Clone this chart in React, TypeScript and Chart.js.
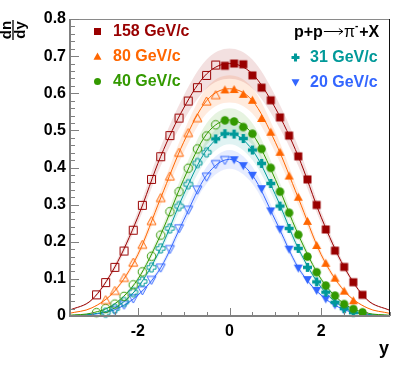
import React, { useEffect, useRef } from "react";
import { Chart, registerables } from "chart.js";

Chart.register(...registerables);

const W = 411;
const H = 373;

const seriesNames = ["158 GeV/c", "80 GeV/c", "40 GeV/c", "31 GeV/c", "20 GeV/c"];
const xTickValues = [-2, 0, 2];
const yTickValues = [0, 0.1, 0.2, 0.3, 0.4, 0.5, 0.6, 0.7, 0.8];
const xAxisTitle = "y";
const yTitleNum = "dn";
const yTitleDen = "dy";

// 158 GeV/c (measured, filled) and reflected (open)
const rap158 = [-0.1, 0.1, 0.3, 0.5, 0.7, 0.9, 1.1, 1.3, 1.5, 1.7, 1.9, 2.1, 2.3, 2.5, 2.7, 2.9];
const dndy158 = [0.674, 0.68, 0.678, 0.648, 0.615, 0.581, 0.535, 0.486, 0.43, 0.368, 0.299, 0.233, 0.176, 0.132, 0.091, 0.057];
const rap158Refl = [-0.3, -0.5, -0.7, -0.9, -1.1, -1.3, -1.5, -1.7, -1.9, -2.1, -2.3, -2.5, -2.7, -2.9];
const dndy158Refl = [0.676, 0.648, 0.615, 0.579, 0.533, 0.486, 0.429, 0.368, 0.298, 0.231, 0.175, 0.131, 0.09, 0.057];

// 80 GeV/c
const rap80 = [-0.1, 0.1, 0.3, 0.5, 0.7, 0.9, 1.1, 1.3, 1.5, 1.7, 1.9, 2.1, 2.3, 2.5, 2.7];
const dndy80 = [0.609, 0.61, 0.597, 0.581, 0.532, 0.495, 0.441, 0.377, 0.32, 0.255, 0.19, 0.142, 0.102, 0.067, 0.041];
const rap80Refl = [-0.3, -0.5, -0.7, -0.9, -1.1, -1.3, -1.5, -1.7, -1.9, -2.1, -2.3, -2.5, -2.7];
const dndy80Refl = [0.595, 0.578, 0.533, 0.493, 0.44, 0.376, 0.318, 0.256, 0.192, 0.144, 0.103, 0.068, 0.043];

// 40 GeV/c
const rap40 = [-0.1, 0.1, 0.3, 0.5, 0.7, 0.9, 1.1, 1.3, 1.5, 1.7, 1.9, 2.1, 2.3, 2.5, 2.7, 2.9];
const dndy40 = [0.527, 0.524, 0.509, 0.491, 0.45, 0.399, 0.335, 0.278, 0.219, 0.16, 0.118, 0.082, 0.055, 0.032, 0.019, 0.01];
const rap40Refl = [-0.3, -0.5, -0.7, -0.9, -1.1, -1.3, -1.5, -1.7, -1.9, -2.1, -2.3, -2.5, -2.7, -2.9];
const dndy40Refl = [0.515, 0.485, 0.45, 0.398, 0.335, 0.281, 0.218, 0.161, 0.119, 0.084, 0.053, 0.032, 0.02, 0.009];

// 31 GeV/c
const rap31 = [-0.3, -0.1, 0.1, 0.3, 0.5, 0.7, 0.9, 1.1, 1.3, 1.5, 1.7, 1.9, 2.1, 2.3, 2.5, 2.7];
const dndy31 = [0.477, 0.491, 0.49, 0.478, 0.447, 0.411, 0.357, 0.296, 0.236, 0.182, 0.131, 0.092, 0.064, 0.037, 0.02, 0.009];
const rap31Refl = [-0.5, -0.7, -0.9, -1.1, -1.3, -1.5, -1.7, -1.9, -2.1, -2.3, -2.5, -2.7];
const dndy31Refl = [0.441, 0.412, 0.355, 0.296, 0.236, 0.182, 0.131, 0.093, 0.064, 0.038, 0.02, 0.009];

// 20 GeV/c
const rap20 = [0.1, 0.3, 0.5, 0.7, 0.9, 1.1, 1.3, 1.5, 1.7, 1.9, 2.1, 2.3, 2.5];
const dndy20 = [0.421, 0.405, 0.379, 0.343, 0.283, 0.234, 0.18, 0.129, 0.098, 0.069, 0.046, 0.03, 0.016];
const rap20Refl = [-0.1, -0.3, -0.5, -0.7, -0.9, -1.1, -1.3, -1.5, -1.7, -1.9, -2.1, -2.3, -2.5];
const dndy20Refl = [0.42, 0.409, 0.375, 0.34, 0.286, 0.236, 0.18, 0.13, 0.097, 0.069, 0.047, 0.03, 0.016];

// fit curves
const fitRap = [-3.5, -3, -2.5, -2, -1.5, -1, -0.5, 0, 0.5, 1, 1.5, 2, 2.5, 3, 3.5];
const fit158 = [0.015, 0.044, 0.132, 0.266, 0.43, 0.56, 0.652, 0.68, 0.652, 0.56, 0.43, 0.266, 0.132, 0.044, 0.015];
const fit80 = [0.007, 0.022, 0.068, 0.165, 0.318, 0.468, 0.58, 0.612, 0.58, 0.468, 0.318, 0.165, 0.068, 0.022, 0.007];
const fit40 = [0.002, 0.008, 0.033, 0.099, 0.219, 0.368, 0.49, 0.528, 0.49, 0.368, 0.219, 0.099, 0.033, 0.008, 0.002];
const fit31 = [0.001, 0.005, 0.022, 0.077, 0.182, 0.327, 0.447, 0.492, 0.447, 0.327, 0.182, 0.077, 0.022, 0.005, 0.001];
const fit20 = [0.001, 0.004, 0.017, 0.056, 0.13, 0.258, 0.379, 0.422, 0.379, 0.258, 0.13, 0.056, 0.017, 0.004, 0.001];
const bandRelErr = 0.06;

const colors = ["#990000", "#ff6600", "#339900", "#009999", "#3366ff"];
const bandColors = [
  "rgba(153,0,0,0.12)",
  "rgba(255,102,0,0.13)",
  "rgba(51,153,0,0.12)",
  "rgba(0,153,153,0.12)",
  "rgba(51,102,255,0.12)",
];
const shapes = ["square", "triUp", "circle", "cross", "triDown"];

const FONT = '"Liberation Sans", Arial, Helvetica, sans-serif';

function makeMarker(shape: string, color: string, filled: boolean, size: number): HTMLCanvasElement {
  const dim = (Math.ceil(size) + 5) | 1;
  const c = document.createElement("canvas");
  c.width = dim;
  c.height = dim;
  const ctx = c.getContext("2d")!;
  const cx = dim / 2;
  const cy = dim / 2;
  const h = size / 2;
  ctx.fillStyle = color;
  ctx.strokeStyle = color;
  ctx.lineWidth = 1;
  ctx.lineJoin = "miter";
  ctx.beginPath();
  if (shape === "square") {
    ctx.rect(cx - h, cy - h, size, size);
  } else if (shape === "circle") {
    ctx.arc(cx, cy, h, 0, Math.PI * 2);
  } else if (shape === "triUp") {
    ctx.moveTo(cx, cy - h);
    ctx.lineTo(cx + h, cy + h * 0.8);
    ctx.lineTo(cx - h, cy + h * 0.8);
    ctx.closePath();
  } else if (shape === "triDown") {
    ctx.moveTo(cx, cy + h);
    ctx.lineTo(cx + h, cy - h * 0.8);
    ctx.lineTo(cx - h, cy - h * 0.8);
    ctx.closePath();
  } else if (shape === "cross") {
    const t = size * 0.19;
    const pts = [
      [-t, -h], [t, -h], [t, -t], [h, -t], [h, t], [t, t],
      [t, h], [-t, h], [-t, t], [-h, t], [-h, -t], [-t, -t],
    ];
    pts.forEach((p, i) => (i === 0 ? ctx.moveTo(cx + p[0], cy + p[1]) : ctx.lineTo(cx + p[0], cy + p[1])));
    ctx.closePath();
  }
  if (filled) ctx.fill();
  else ctx.stroke();
  return c;
}

const xy = (xs: number[], ys: number[]) => xs.map((x, i) => ({ x, y: ys[i] }));

export default function App() {
  const ref = useRef<HTMLCanvasElement>(null);

  useEffect(() => {
    document.body.style.margin = "0";
    const series = [
      { rap: rap158, val: dndy158, rapR: rap158Refl, valR: dndy158Refl, fit: fit158 },
      { rap: rap80, val: dndy80, rapR: rap80Refl, valR: dndy80Refl, fit: fit80 },
      { rap: rap40, val: dndy40, rapR: rap40Refl, valR: dndy40Refl, fit: fit40 },
      { rap: rap31, val: dndy31, rapR: rap31Refl, valR: dndy31Refl, fit: fit31 },
      { rap: rap20, val: dndy20, rapR: rap20Refl, valR: dndy20Refl, fit: fit20 },
    ];
    const plotSize = [8, 9, 8.5, 9, 9];
    const legSize = [7, 8, 7, 8, 8];
    const filledMk = shapes.map((s, i) => makeMarker(s, colors[i], true, plotSize[i]));
    const openMk = shapes.map((s, i) => makeMarker(s, colors[i], false, plotSize[i]));
    const legMk = shapes.map((s, i) => makeMarker(s, colors[i], true, legSize[i]));

    const datasets: any[] = [];
    series.forEach((s, i) => {
      datasets.push({
        data: xy(fitRap, s.fit.map((v) => v * (1 + bandRelErr))),
        showLine: true,
        borderWidth: 0,
        borderColor: "rgba(0,0,0,0)",
        pointRadius: 0,
        cubicInterpolationMode: "monotone",
        fill: "+1",
        backgroundColor: bandColors[i],
        order: 100 + i,
      });
      datasets.push({
        data: xy(fitRap, s.fit.map((v) => v * (1 - bandRelErr))),
        showLine: true,
        borderWidth: 0,
        borderColor: "rgba(0,0,0,0)",
        pointRadius: 0,
        cubicInterpolationMode: "monotone",
        fill: false,
        order: 100 + i,
      });
    });
    series.forEach((s, i) => {
      datasets.push({
        data: xy(fitRap, s.fit),
        showLine: true,
        borderWidth: 1,
        borderColor: colors[i],
        pointRadius: 0,
        cubicInterpolationMode: "monotone",
        fill: false,
        order: 50 + i,
      });
    });
    series.forEach((s, i) => {
      datasets.push({
        data: xy(s.rapR, s.valR),
        showLine: false,
        pointStyle: openMk[i],
        pointRadius: 5,
        clip: false,
        order: 20 + i,
      });
      datasets.push({
        data: xy(s.rap, s.val),
        showLine: false,
        pointStyle: filledMk[i],
        pointRadius: 5,
        clip: false,
        order: i,
      });
    });

    const decor = {
      id: "decor",
      afterDraw(chart: any) {
        const { ctx, chartArea: a, scales } = chart;
        const xs = scales.x;
        const ys = scales.y;
        ctx.save();
        // frame
        ctx.lineWidth = 1;
        ctx.strokeStyle = "#8a8a8a";
        ctx.beginPath();
        ctx.moveTo(a.left, a.top + 0.5);
        ctx.lineTo(a.right, a.top + 0.5);
        ctx.stroke();
        ctx.strokeStyle = "#111";
        ctx.beginPath();
        ctx.moveTo(a.right - 0.5, a.top);
        ctx.lineTo(a.right - 0.5, a.bottom);
        ctx.stroke();
        // axes
        ctx.strokeStyle = "#808080";
        ctx.lineWidth = 2;
        ctx.beginPath();
        ctx.moveTo(a.left + 1, a.top);
        ctx.lineTo(a.left + 1, a.bottom + 1);
        ctx.moveTo(a.left, a.bottom);
        ctx.lineTo(a.right, a.bottom);
        ctx.stroke();
        // y ticks
        ctx.lineWidth = 1;
        ctx.beginPath();
        for (let k = 0; k <= 40; k++) {
          const py = Math.round(ys.getPixelForValue(k * 0.02)) + 0.5;
          const len = k % 5 === 0 ? 9 : 5;
          ctx.moveTo(a.left + 1, py);
          ctx.lineTo(a.left + 1 + len, py);
        }
        // x ticks
        for (let k = -7; k <= 7; k++) {
          const v = k * 0.5;
          const px = Math.round(xs.getPixelForValue(v)) + 0.5;
          const len = k % 4 === 0 ? 8 : 4;
          ctx.moveTo(px, a.bottom);
          ctx.lineTo(px, a.bottom - len);
        }
        ctx.stroke();

        // axis titles
        ctx.fillStyle = "#000";
        ctx.font = `bold 18px ${FONT}`;
        ctx.textAlign = "right";
        ctx.textBaseline = "alphabetic";
        ctx.fillText(xAxisTitle, a.right - 1, 354);

        ctx.save();
        ctx.translate(13, 30);
        ctx.rotate(-Math.PI / 2);
        ctx.font = `bold 15px ${FONT}`;
        ctx.textAlign = "center";
        ctx.fillText(yTitleNum, 0, -2);
        ctx.fillText(yTitleDen, 0, 12);
        ctx.lineWidth = 1.3;
        ctx.strokeStyle = "#000";
        ctx.beginPath();
        ctx.moveTo(-10, 0);
        ctx.lineTo(10, 0);
        ctx.stroke();
        ctx.restore();

        // legend left
        ctx.font = `bold 16px ${FONT}`;
        ctx.textAlign = "left";
        const leftRows = [0, 1, 2];
        leftRows.forEach((si, r) => {
          const by = 36 + r * 25;
          const m = legMk[si];
          ctx.drawImage(m, Math.round(97 - m.width / 2), Math.round(by - 5 - m.height / 2));
          ctx.fillStyle = colors[si];
          ctx.fillText(seriesNames[si], 113, by);
        });
        const rightRows = [3, 4];
        rightRows.forEach((si, r) => {
          const by = 62 + r * 25;
          const m = legMk[si];
          ctx.drawImage(m, Math.round(295 - m.width / 2), Math.round(by - 5 - m.height / 2));
          ctx.fillStyle = colors[si];
          ctx.fillText(seriesNames[si], 310, by);
        });
        // reaction label p+p -> pi- + X
        ctx.fillStyle = "#000";
        let x = 294;
        const by = 37;
        ctx.fillText("p+p", x, by);
        x += ctx.measureText("p+p").width;
        const ax0 = x + 1;
        const ax1 = x + 20;
        const ay = by - 5.5;
        ctx.strokeStyle = "#000";
        ctx.lineWidth = 1;
        ctx.beginPath();
        ctx.moveTo(ax0, ay);
        ctx.lineTo(ax1, ay);
        ctx.moveTo(ax1 - 4, ay - 3);
        ctx.lineTo(ax1, ay);
        ctx.lineTo(ax1 - 4, ay + 3);
        ctx.stroke();
        x = ax1 + 1;
        ctx.font = `16px ${FONT}`;
        ctx.fillText("π", x, by);
        x += ctx.measureText("π").width;
        ctx.font = `bold 10px ${FONT}`;
        ctx.fillText("-", x, by - 8);
        x += ctx.measureText("-").width + 1;
        ctx.font = `bold 16px ${FONT}`;
        ctx.fillText("+X", x, by);
        ctx.restore();
      },
    };

    const chart = new Chart(ref.current!, {
      type: "scatter",
      data: { datasets },
      options: {
        responsive: false,
        animation: false,
        events: [],
        layout: { autoPadding: false, padding: { top: 19, right: 21, left: 0, bottom: 0 } },
        plugins: { legend: { display: false }, tooltip: { enabled: false } },
        scales: {
          x: {
            type: "linear",
            min: -3.5,
            max: 3.5,
            afterFit: (s: any) => {
              s.height = 57;
            },
            afterBuildTicks: (s: any) => {
              s.ticks = xTickValues.map((v) => ({ value: v }));
            },
            grid: { display: false, drawTicks: false },
            border: { display: false },
            ticks: {
              color: "#000",
              padding: 6,
              maxRotation: 0,
              font: { family: FONT, weight: "bold", size: 16 },
              callback: (v: any) => String(v),
            },
          },
          y: {
            type: "linear",
            min: 0,
            max: 0.8,
            afterFit: (s: any) => {
              s.width = 69;
            },
            afterBuildTicks: (s: any) => {
              s.ticks = yTickValues.map((v) => ({ value: v }));
            },
            grid: { display: false, drawTicks: false },
            border: { display: false },
            ticks: {
              color: "#000",
              padding: 3,
              font: { family: FONT, weight: "bold", size: 16 },
              callback: (v: any) => (v === 0 ? "0" : Number(v).toFixed(1)),
            },
          },
        },
      } as any,
      plugins: [decor],
    });
    return () => chart.destroy();
  }, []);

  return (
    <div style={{ width: W, height: H, background: "#fff" }}>
      <canvas ref={ref} width={W} height={H} style={{ display: "block" }} />
    </div>
  );
}
